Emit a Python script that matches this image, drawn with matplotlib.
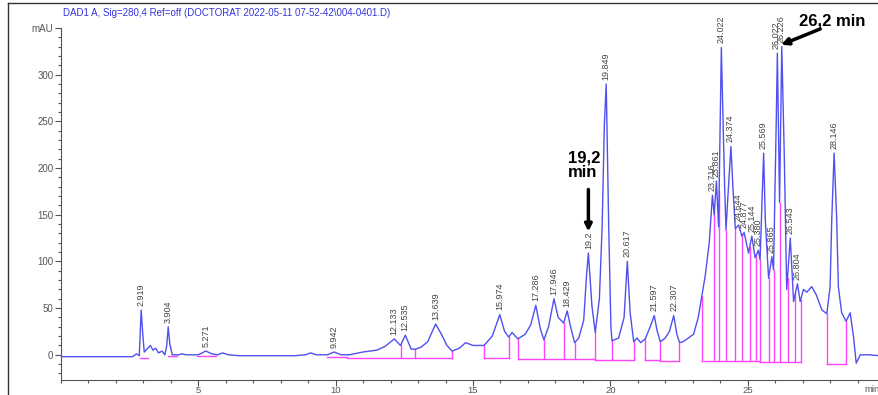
import matplotlib.pyplot as plt
import numpy as np
from matplotlib.lines import Line2D
from matplotlib.ticker import MultipleLocator

plt.rcParams['font.family'] = ['Liberation Sans', 'DejaVu Sans']

# trace (min, mAU)
t = [0, 2.6, 2.75, 2.85, 2.919, 2.97, 3.03, 3.10, 3.25, 3.35, 3.45, 3.55, 3.68, 3.78, 3.85,
     3.904, 3.96, 4.05, 4.3, 4.4, 4.55, 5.0, 5.271, 5.5, 5.7, 5.88, 6.1, 6.5, 7.0, 8.5,
     8.9, 9.09, 9.3, 9.7, 9.942, 10.2, 10.5, 11.0, 11.5, 11.8, 12.133, 12.36, 12.535,
     12.75, 12.9, 13.1, 13.35, 13.639, 13.85, 14.05, 14.24, 14.5, 14.73, 15.0, 15.4,
     15.7, 15.974, 16.15, 16.3, 16.42, 16.63, 16.9, 17.1, 17.286, 17.45, 17.58, 17.75,
     17.946, 18.1, 18.3, 18.429, 18.55, 18.7, 18.85, 19.03, 19.13, 19.2, 19.33, 19.45,
     19.6, 19.7, 19.78, 19.849, 19.94, 20.02, 20.06, 20.3, 20.5, 20.617, 20.72, 20.85,
     20.97, 21.1, 21.27, 21.45, 21.597, 21.7, 21.82, 22.0, 22.15, 22.307, 22.42, 22.52,
     22.65, 22.79, 23.03, 23.2, 23.33, 23.45, 23.6, 23.716, 23.78, 23.861, 23.94, 24.04,
     24.1, 24.16, 24.21, 24.3, 24.39, 24.46, 24.55, 24.67, 24.79, 24.87, 25.03, 25.15,
     25.27, 25.39, 25.45, 25.58, 25.64, 25.76, 25.88, 25.94, 26.04, 26.08, 26.16, 26.24,
     26.33, 26.42, 26.55, 26.67, 26.81, 26.91, 27.03, 27.15, 27.33, 27.5, 27.7, 27.88,
     28.0, 28.06, 28.146, 28.24, 28.3, 28.42, 28.58, 28.73, 28.85, 28.95, 29.1, 29.4, 29.8]
mau = [-2, -2, 1, -1, 48, 25, 3, 5, 10, 5, 7, 2, 4, 0, 10,
       30, 12, 0, 0, 1, 0, 0, 4, 1, 0, 2, 0, -1, -1, -1,
       0, 2, 0, 0, 3, 0, 0, 3, 5, 9, 17, 10, 21,
       6, 6, 8, 14, 33, 22, 10, 4, 7, 13, 10, 10,
       20, 43, 25, 19, 24, 17, 22, 32, 53, 28, 16, 30,
       60, 40, 34, 47, 30, 13, 18, 37, 84, 109, 52, 24,
       60, 137, 245, 290, 137, 30, 15, 18, 40, 100, 45, 14,
       18, 13, 17, 30, 42, 26, 14, 18, 25, 42, 22, 13,
       14, 17, 22, 40, 63, 84, 120, 171, 150, 186, 137, 329,
       252, 180, 134, 180, 223, 180, 135, 139, 127, 131, 109, 127,
       104, 112, 102, 216, 145, 82, 105, 91, 252, 323, 163, 330,
       216, 70, 125, 57, 76, 57, 70, 67, 73, 64, 48, 44,
       73, 145, 216, 145, 73, 45, 36, 45, 20, -9, 0, 0, -1]

# peak labels
pk_lbl = ['2.919', '3.904', '5.271', '9.942', '12.133', '12.535', '13.639', '15.974',
          '17.286', '17.946', '18.429', '19.2', '19.849', '20.617', '21.597', '22.307',
          '23.716', '23.861', '24.022', '24.374', '24.644', '24.877', '25.144', '25.380',
          '25.569', '25.865', '26.022', '26.226', '26.543', '26.804', '28.146']
pk_h = [48, 30, 4, 3, 17, 21, 33, 43, 53, 60, 47, 109, 290, 100, 42, 42,
        171, 186, 329, 223, 139, 131, 127, 112, 216, 105, 323, 330, 125, 76, 216]

# integration baselines: (start, end, level) and drop lines
base_seg = [(2.88, 3.15, -3), (3.88, 4.24, -1), (4.95, 5.64, -1), (9.7, 10.43, -2),
            (10.43, 14.24, -3.5), (15.4, 16.3, -3.6), (16.63, 19.45, -4.5),
            (19.45, 20.85, -5.4), (21.27, 21.82, -5.4), (21.82, 22.51, -7),
            (23.33, 25.45, -7), (25.45, 26.93, -8), (27.88, 28.58, -9.5)]
drops = [(12.36, -3.5), (12.87, -3.5), (14.24, -3.5), (15.4, -3.6), (16.3, -3.6),
         (16.63, -4.5), (17.58, -4.5), (18.3, -4.5), (18.7, -4.5), (19.45, -5.4),
         (20.06, -5.4), (20.85, -5.4), (21.27, -5.4), (21.82, -7), (22.51, -7),
         (23.33, -7), (23.79, -7), (23.96, -7), (24.21, -7), (24.55, -7), (24.81, -7),
         (25.07, -7), (25.31, -7), (25.45, -8), (25.76, -8), (25.94, -8), (26.16, -8),
         (26.45, -8), (26.73, -8), (26.93, -8), (27.88, -9.5), (28.58, -9.5)]

fig = plt.figure(figsize=(8.79, 3.95), dpi=100)
ax = fig.add_axes([61 / 879, 1 - 380 / 395, 1 - 61 / 879, (380 - 28) / 395])

for a, b, lv in base_seg:
    ax.plot([a, b], [lv, lv], color='#ff44ff', lw=1)
for x, lv in drops:
    ax.plot([x, x], [lv, np.interp(x, t, mau)], color='#ff44ff', lw=1)
ax.plot(t, mau, color='#5050f0', lw=1)

for lb, h in zip(pk_lbl, pk_h):
    ax.annotate(lb, (float(lb), h), xytext=(0, 3), textcoords='offset points',
                rotation=90, ha='center', va='bottom', fontsize=6.5, color='#444444',
                annotation_clip=False)

# arrows added by hand on the chromatogram
ax.text(18.47, 203, '19,2\nmin', ha='left', va='center', fontsize=12,
        fontweight='bold', linespacing=1.0)
ax.annotate('', xy=(19.2, 132), xytext=(19.2, 177),
            arrowprops=dict(arrowstyle='-|>', color='black', lw=2.5, shrinkA=0, shrinkB=0))
ax.text(28.07, 357, '26,2 min', ha='center', va='center', fontsize=12,
        fontweight='bold', clip_on=False)
ax.annotate('', xy=(26.22, 332), xytext=(27.64, 349), annotation_clip=False,
            arrowprops=dict(arrowstyle='-|>', color='black', lw=2.5, shrinkA=0, shrinkB=0))

ax.set_xlim(0, 29.78)
ax.set_ylim(-27, 350)
ax.set_yticks([0, 50, 100, 150, 200, 250, 300, 350])
ax.set_yticklabels(['0', '50', '100', '150', '200', '250', '300', 'mAU'])
ax.set_xticks([5, 10, 15, 20, 25])
ax.xaxis.set_minor_locator(MultipleLocator(1))
ax.yaxis.set_minor_locator(MultipleLocator(10))
ax.tick_params(colors='#555555', labelsize=7, length=4, width=0.8, pad=1.5)
ax.tick_params(axis='x', pad=0.3, labelsize=6.8)
ax.tick_params(which='minor', colors='#555555', length=2, width=0.8)
for s in ['top', 'right']:
    ax.spines[s].set_visible(False)
for s in ['left', 'bottom']:
    ax.spines[s].set_color('#555555')
ax.text(29.25, -32, 'min', fontsize=6.8, color='#555555', ha='left', va='top', clip_on=False)

fig.text(63 / 879, 1 - 13 / 395, r'DAD1 A, Sig=280,4 Ref=off (DOCTORAT 2022-05-11 07-52-42\004-0401.D)',
         color='#3333dd', fontsize=7, va='center')
fig.add_artist(Line2D([8 / 879, 8 / 879], [0, 1 - 3 / 395], color='#333333', lw=1))
fig.add_artist(Line2D([8 / 879, 1], [1 - 3 / 395, 1 - 3 / 395], color='#333333', lw=1))

fig.savefig('out.png', dpi=100)
